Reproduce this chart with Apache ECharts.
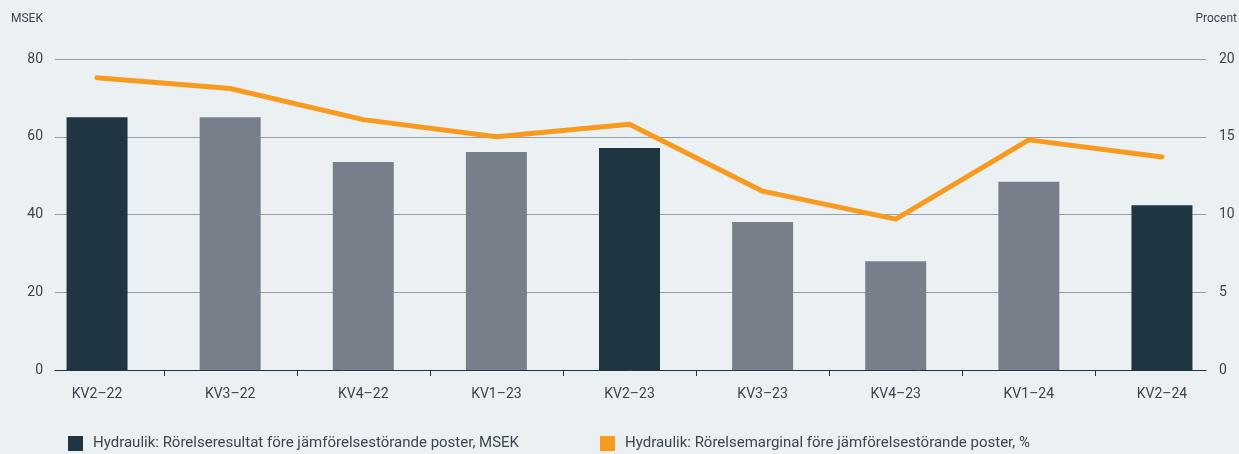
<!DOCTYPE html>
<html>
<head>
<meta charset="utf-8">
<script src="https://cdn.jsdelivr.net/npm/echarts@6/dist/echarts.min.js"></script>
<style>
html,body{margin:0;padding:0;background:#ebf0f3;}
#c{width:1239px;height:454px;}
</style>
</head>
<body>
<div id="c"></div>
<script>
const categories = ['KV2–22','KV3–22','KV4–22','KV1–23','KV2–23','KV3–23','KV4–23','KV1–24','KV2–24'];
const resultatMSEK = [65, 65, 53.5, 56.1, 57.1, 38.1, 28.0, 48.4, 42.4];
const marginalPct = [18.8, 18.1, 16.1, 15.0, 15.8, 11.5, 9.7, 14.8, 13.7];
const highlightIdx = [0, 4, 8];
const leftTicks = [0, 20, 40, 60, 80];
const rightTicks = [0, 5, 10, 15, 20];
const tickSlots = ['a','b','c','d','e','f','g','h'];

const DARK = '#1f3541', GRAY = '#77808a', ORANGE = '#f79a1e', TXT = '#3a4650';
const FONT = 'Roboto, "Noto Sans", sans-serif';

const chart = echarts.init(document.getElementById('c'), null, {renderer: 'canvas'});
chart.setOption({
  backgroundColor: '#ebf0f3',
  animation: false,
  textStyle: {fontFamily: FONT, color: TXT},
  title: [
    {text: 'MSEK', left: 11, top: 13, padding: 0, textStyle: {fontSize: 12, fontWeight: 'normal', color: TXT, fontFamily: FONT}},
    {text: 'Procent', right: 2, top: 13, padding: 0, textStyle: {fontSize: 12, fontWeight: 'normal', color: TXT, fontFamily: FONT}}
  ],
  legend: [
    {data: ['Hydraulik: Rörelseresultat före jämförelsestörande poster, MSEK'], left: 68, top: 436, padding: 0,
     itemWidth: 15, itemHeight: 15, icon: 'rect',
     textStyle: {fontSize: 15, color: TXT, fontFamily: FONT, padding: [0,0,0,5]}},
    {data: ['Hydraulik: Rörelsemarginal före jämförelsestörande poster, %'], left: 600, top: 436, padding: 0,
     itemWidth: 15, itemHeight: 15, icon: 'rect',
     textStyle: {fontSize: 15, color: TXT, fontFamily: FONT, padding: [0,0,0,5]}}
  ],
  grid: [
    {left: 55, right: 33, top: 59, bottom: 84},
    {left: 30.5, right: 10.5, top: 59, bottom: 84},
    {left: 164, right: 144, top: 59, bottom: 84}
  ],
  xAxis: [
    {gridIndex: 0, type: 'value', min: 0, max: 1, axisLine: {show: true, lineStyle: {color: DARK, width: 1}},
     axisTick: {show: false}, axisLabel: {show: false}, splitLine: {show: false}},
    {gridIndex: 1, type: 'category', data: categories, boundaryGap: true,
     axisLine: {show: false}, axisTick: {show: false},
     axisLabel: {margin: 17, fontSize: 14, color: TXT, fontFamily: FONT}},
    {gridIndex: 2, type: 'category', data: tickSlots, boundaryGap: false,
     axisLine: {show: false}, axisLabel: {show: false},
     axisTick: {show: true, length: 6, lineStyle: {color: DARK, width: 1}}}
  ],
  yAxis: [
    {gridIndex: 0, type: 'value', min: leftTicks[0], max: leftTicks[leftTicks.length-1], interval: 20, position: 'left',
     axisLine: {show: false}, axisTick: {show: false},
     axisLabel: {margin: 12, fontSize: 14, color: TXT, fontFamily: FONT},
     splitLine: {show: true, lineStyle: {color: '#969ea6', width: 1}}},
    {gridIndex: 0, type: 'value', min: rightTicks[0], max: rightTicks[rightTicks.length-1], interval: 5, position: 'right',
     axisLine: {show: false}, axisTick: {show: false},
     axisLabel: {margin: 13, fontSize: 14, color: TXT, fontFamily: FONT},
     splitLine: {show: false}},
    {gridIndex: 1, type: 'value', min: 0, max: 80, show: false},
    {gridIndex: 1, type: 'value', min: 0, max: 20, show: false},
    {gridIndex: 2, type: 'value', min: 0, max: 1, show: false}
  ],
  series: [
    {name: 'Hydraulik: Rörelseresultat före jämförelsestörande poster, MSEK', type: 'bar',
     xAxisIndex: 1, yAxisIndex: 2, barWidth: 61,
     itemStyle: {color: DARK},
     data: resultatMSEK.map((v, i) => ({value: v, itemStyle: {color: highlightIdx.includes(i) ? DARK : GRAY}}))},
    {name: 'Hydraulik: Rörelsemarginal före jämförelsestörande poster, %', type: 'line',
     xAxisIndex: 1, yAxisIndex: 3, showSymbol: false, symbol: 'none',
     itemStyle: {color: ORANGE},
     lineStyle: {color: ORANGE, width: 5, cap: 'round', join: 'round'},
     data: marginalPct}
  ]
});
</script>
</body>
</html>
